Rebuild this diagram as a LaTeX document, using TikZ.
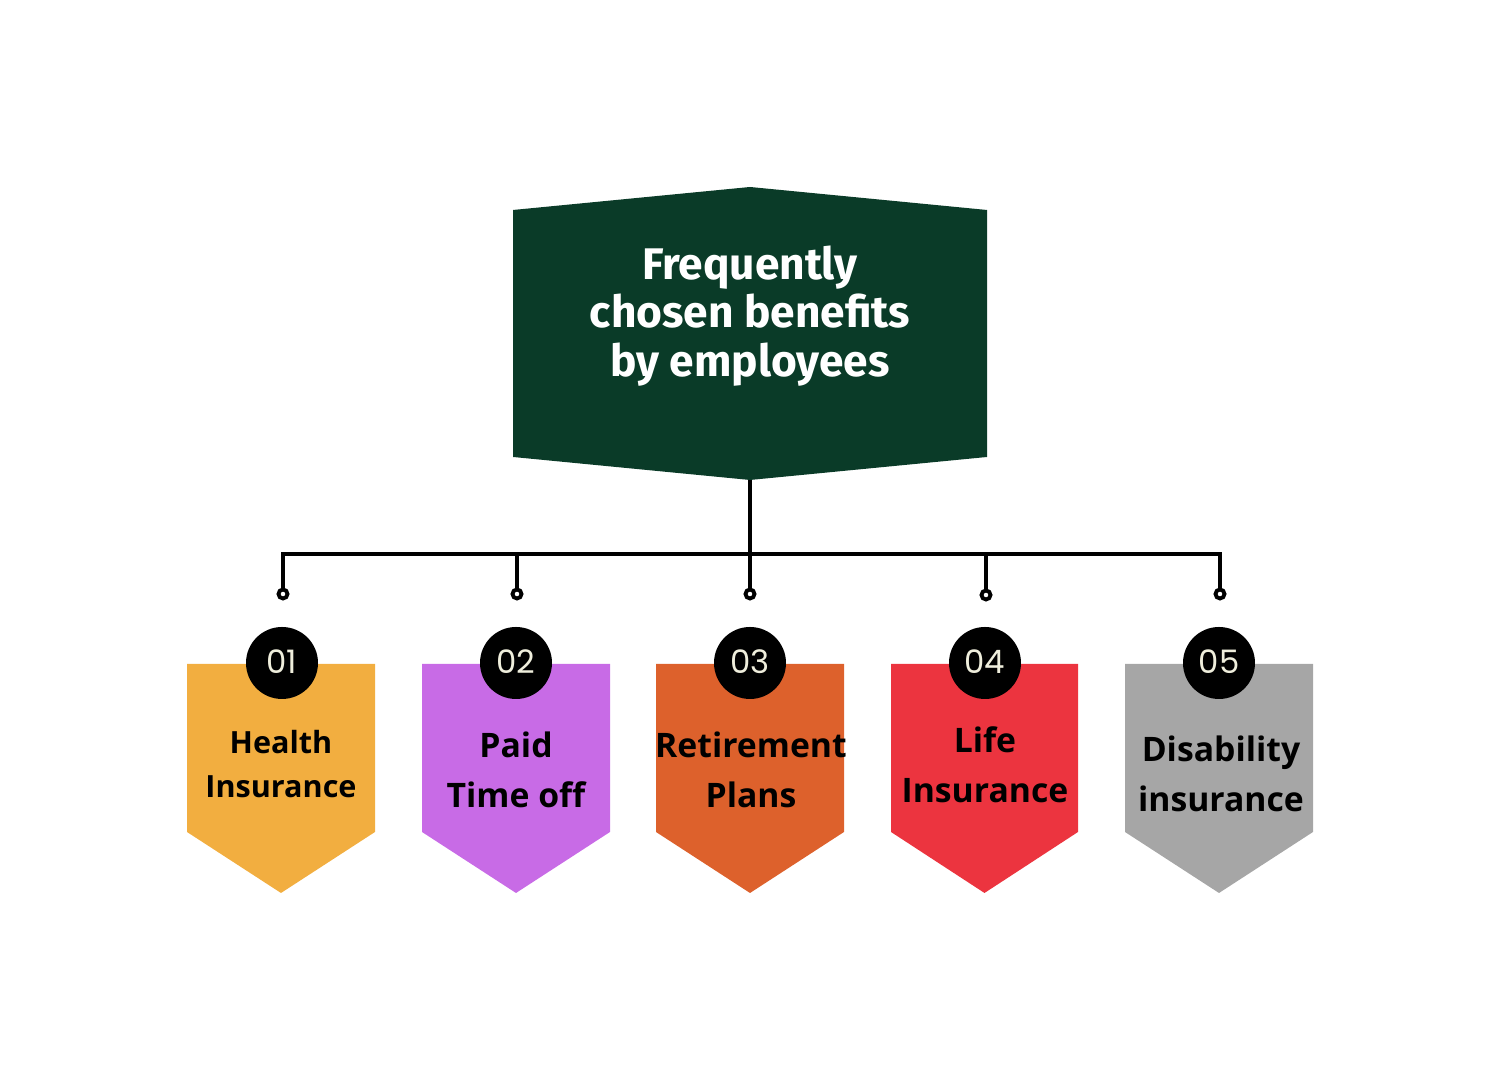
\documentclass[tikz,border=0pt]{standalone}
\usepackage{fontspec}
\setmainfont{Open Sans}
\newfontfamily\titlefont{Fira Sans}
\newfontfamily\numfont{Poppins}
\definecolor{deepgreen}{HTML}{0A3B28}
\definecolor{amber}{HTML}{F2AE40}
\definecolor{orchid}{HTML}{C86BE6}
\definecolor{rust}{HTML}{DD612C}
\definecolor{crimson}{HTML}{EC343F}
\definecolor{stone}{HTML}{A6A6A6}
\definecolor{cream}{HTML}{EFEEDC}
\begin{document}
\begin{tikzpicture}
    % Define styles
    \tikzset{
        headline/.style={text=white, align=center, font=\titlefont\bfseries\fontsize{12.6}{13.9}\selectfont},
        badge/.style={circle, fill=black, minimum size=0.72cm, inner sep=0pt, text=cream, font=\numfont\fontsize{9.2}{10}\selectfont},
        benefit/.style={align=center, text=black, font=\bfseries\fontsize{9.6}{14.2}\selectfont},
        link/.style={line width=1.1pt, black},
        pinend/.style={circle, draw=black, line width=1.1pt, fill=white, minimum size=0.09cm, inner sep=0pt}
    }
    \useasboundingbox (0,0) rectangle (15,10.8);

    % Title panel
    \fill[deepgreen] (5.13,8.70) -- (7.50,8.93) -- (9.87,8.70) -- (9.87,6.23) -- (7.50,6.00) -- (5.13,6.23) -- cycle;
    \node[headline] (title) at (7.50,7.64) {Frequently\\chosen benefits\\by employees};
    \coordinate (hub) at (7.50,6.00);
    \coordinate (bus) at (7.50,5.26);

    % Pin ends
    \node[pinend] (p1) at (2.83,4.86) {};
    \node[pinend] (p2) at (5.17,4.86) {};
    \node[pinend] (p3) at (7.50,4.86) {};
    \node[pinend] (p4) at (9.86,4.85) {};
    \node[pinend] (p5) at (12.20,4.86) {};

    % Connectors
    \draw[link] (hub) -- (bus);
    \draw[link] (bus) -| (p1);
    \draw[link] (bus) -| (p2);
    \draw[link] (bus) -- (p3);
    \draw[link] (bus) -| (p4);
    \draw[link] (bus) -| (p5);

    % Benefit panels
    \fill[amber] (1.87,4.16) -- (3.75,4.16) -- (3.75,2.48) -- (2.81,1.87) -- (1.87,2.48) -- cycle;
    \fill[orchid] (4.22,4.16) -- (6.10,4.16) -- (6.10,2.48) -- (5.16,1.87) -- (4.22,2.48) -- cycle;
    \fill[rust] (6.56,4.16) -- (8.44,4.16) -- (8.44,2.48) -- (7.50,1.87) -- (6.56,2.48) -- cycle;
    \fill[crimson] (8.91,4.16) -- (10.78,4.16) -- (10.78,2.48) -- (9.845,1.87) -- (8.91,2.48) -- cycle;
    \fill[stone] (11.25,4.16) -- (13.13,4.16) -- (13.13,2.48) -- (12.19,1.87) -- (11.25,2.48) -- cycle;

    % Number badges
    \node[badge] (n1) at (2.82,4.17) {\raisebox{0.9pt}{01}};
    \node[badge] (n2) at (5.16,4.17) {\raisebox{0.9pt}{02}};
    \node[badge] (n3) at (7.50,4.17) {\raisebox{0.9pt}{03}};
    \node[badge] (n4) at (9.85,4.17) {\raisebox{0.9pt}{04}};
    \node[badge] (n5) at (12.19,4.17) {\raisebox{0.9pt}{05}};

    % Benefit labels
    \node[benefit, font=\bfseries\fontsize{8.7}{12.5}\selectfont] (b1) at (2.81,3.16) {Health\\Insurance};
    \node[benefit] (b2) at (5.16,3.10) {Paid\\Time off};
    \node[benefit] (b3) at (7.51,3.10) {Retirement\\Plans};
    \node[benefit] (b4) at (9.85,3.15) {Life\\Insurance};
    \node[benefit] (b5) at (12.21,3.06) {Disability\\insurance};
\end{tikzpicture}
\end{document}
